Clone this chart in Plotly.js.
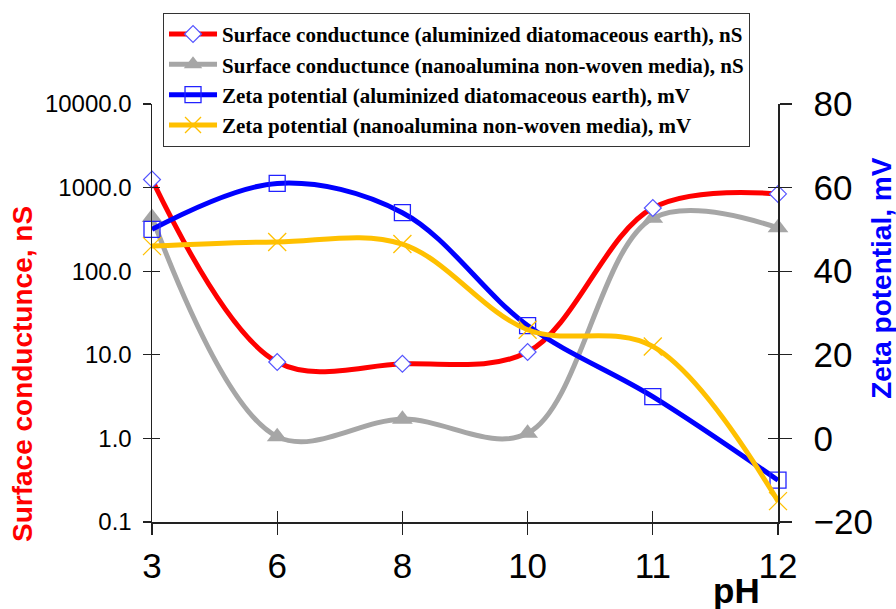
<!DOCTYPE html>
<html>
<head>
<meta charset="utf-8">
<script src="https://cdn.plot.ly/plotly-3.0.1.min.js"></script>
<style>html,body{margin:0;padding:0;background:#fff;}#chart{width:896px;height:609px;}</style>
</head>
<body>
<div id="chart"></div>
<script>
// ---- data ----
var pHLabels = ['3', '6', '8', '10', '11', '12'];
var scAluminizedDE = [1250, 8.2, 7.8, 10.8, 570, 840];     // nS
var scNanoalumina = [440, 1.05, 1.7, 1.15, 430, 330];      // nS
var zetaAluminizedDE = [50, 61, 54, 27, 10, -10];          // mV
var zetaNanoalumina = [46, 47, 46.5, 26, 22, -15];         // mV
var leftTickVals = [0.1, 1, 10, 100, 1000, 10000];
var leftTickText = ['0.1', '1.0', '10.0', '100.0', '1000.0', '10000.0'];
var rightTickVals = [-20, 0, 20, 40, 60, 80];

var xi = pHLabels.map(function (_, i) { return i; });

var traces = [
  {
    name: 'Surface conductunce (nanoalumina non-woven media), nS',
    x: xi, y: scNanoalumina, xaxis: 'x', yaxis: 'y', legendrank: 2,
    mode: 'lines+markers', cliponaxis: false,
    line: {color: '#a6a6a6', width: 5, shape: 'spline', smoothing: 1},
    marker: {symbol: 'triangle-up', size: 18, color: '#a6a6a6'}
  },
  {
    name: 'Surface conductunce (aluminized diatomaceous earth), nS',
    x: xi, y: scAluminizedDE, xaxis: 'x', yaxis: 'y', legendrank: 1,
    mode: 'lines+markers', cliponaxis: false,
    line: {color: '#ff0000', width: 5, shape: 'spline', smoothing: 1},
    marker: {symbol: 'diamond', size: 13, color: '#ffffff', line: {color: '#5555ff', width: 1.2}}
  },
  {
    name: 'Zeta potential (aluminized diatomaceous earth), mV',
    x: xi, y: zetaAluminizedDE, xaxis: 'x', yaxis: 'y2', legendrank: 3,
    mode: 'lines+markers', cliponaxis: false,
    line: {color: '#0000ff', width: 5, shape: 'spline', smoothing: 1},
    marker: {symbol: 'square-open', size: 16, color: '#2222ff', line: {width: 1.3}}
  },
  {
    name: 'Zeta potential (nanoalumina non-woven media), mV',
    x: xi, y: zetaNanoalumina, xaxis: 'x', yaxis: 'y2', legendrank: 4,
    mode: 'lines+markers', cliponaxis: false,
    line: {color: '#ffc000', width: 5, shape: 'spline', smoothing: 1},
    marker: {symbol: 'x-thin-open', size: 18, color: '#ffc000', line: {color: '#ffc000', width: 1.3}}
  },
  // invisible carriers for the inner half of the crossing tick marks
  {x: [null], y: [null], xaxis: 'x2', yaxis: 'y3', showlegend: false, hoverinfo: 'skip', mode: 'markers'},
  {x: [null], y: [null], xaxis: 'x2', yaxis: 'y4', showlegend: false, hoverinfo: 'skip', mode: 'markers'}
];

var axisCommon = {showgrid: false, zeroline: false, linecolor: '#222', linewidth: 1.5, tickcolor: '#222', tickwidth: 1.3};

var layout = {
  width: 896, height: 609,
  margin: {l: 152, r: 118, t: 104, b: 87, pad: 0},
  paper_bgcolor: '#ffffff', plot_bgcolor: '#ffffff',
  font: {family: 'Arial, Liberation Sans, sans-serif', color: '#000'},
  showlegend: true,
  legend: {
    x: 0.0176, y: 1.218, xanchor: 'left', yanchor: 'top',
    bgcolor: '#ffffff', bordercolor: '#333', borderwidth: 1,
    font: {family: 'Liberation Serif, Times New Roman, serif', size: 21, weight: 'bold', color: '#000'},
    itemwidth: 48, tracegroupgap: 0, traceorder: 'normal'
  },
  xaxis: Object.assign({}, axisCommon, {
    range: [0, 5], tickvals: xi, ticktext: pHLabels,
    ticks: 'outside', ticklen: 11, showline: true,
    tickfont: {size: 35, family: 'Arial, Liberation Sans, sans-serif'}, ticklabelstandoff: 1
  }),
  xaxis2: Object.assign({}, axisCommon, {
    range: [0, 5], tickvals: xi, overlaying: 'x', anchor: 'y3',
    ticks: 'inside', ticklen: 11, showline: false, showticklabels: false
  }),
  yaxis: Object.assign({}, axisCommon, {
    type: 'log', range: [-1, 4], tickvals: leftTickVals, ticktext: leftTickText,
    ticks: 'outside', ticklen: 8, showline: true,
    tickfont: {size: 24, family: 'Arial, Liberation Sans, sans-serif'}, ticklabelstandoff: 6
  }),
  yaxis2: Object.assign({}, axisCommon, {
    range: [-20, 80], tickvals: rightTickVals, overlaying: 'y', side: 'right', anchor: 'x',
    ticks: 'outside', ticklen: 12, showline: true,
    tickfont: {size: 35, family: 'Arial, Liberation Sans, sans-serif'}, ticklabelstandoff: 15
  }),
  yaxis3: Object.assign({}, axisCommon, {
    type: 'log', range: [-1, 4], tickvals: leftTickVals, overlaying: 'y', anchor: 'x2', side: 'left',
    ticks: 'inside', ticklen: 8, showline: false, showticklabels: false
  }),
  yaxis4: Object.assign({}, axisCommon, {
    range: [-20, 80], tickvals: rightTickVals, overlaying: 'y', anchor: 'x2', side: 'right',
    ticks: 'inside', ticklen: 10, showline: false, showticklabels: false
  }),
  annotations: [
    {text: 'Surface conductunce, nS', xref: 'paper', yref: 'paper', x: -0.2077, y: 0.354,
     xanchor: 'center', yanchor: 'middle', textangle: -90, showarrow: false,
     font: {size: 28, weight: 'bold', color: '#ff0000', family: 'Arial, Liberation Sans, sans-serif'}},
    {text: 'Zeta potential, mV', xref: 'paper', yref: 'paper', x: 1.166, y: 0.584,
     xanchor: 'center', yanchor: 'middle', textangle: -90, showarrow: false,
     font: {size: 28, weight: 'bold', color: '#0000ff', family: 'Arial, Liberation Sans, sans-serif'}},
    {text: 'pH', xref: 'paper', yref: 'paper', x: 0.933, y: -0.163,
     xanchor: 'center', yanchor: 'middle', showarrow: false,
     font: {size: 35, weight: 'bold', color: '#000', family: 'Arial, Liberation Sans, sans-serif'}}
  ]
};

Plotly.newPlot('chart', traces, layout, {displayModeBar: false, staticPlot: true});
</script>
</body>
</html>
